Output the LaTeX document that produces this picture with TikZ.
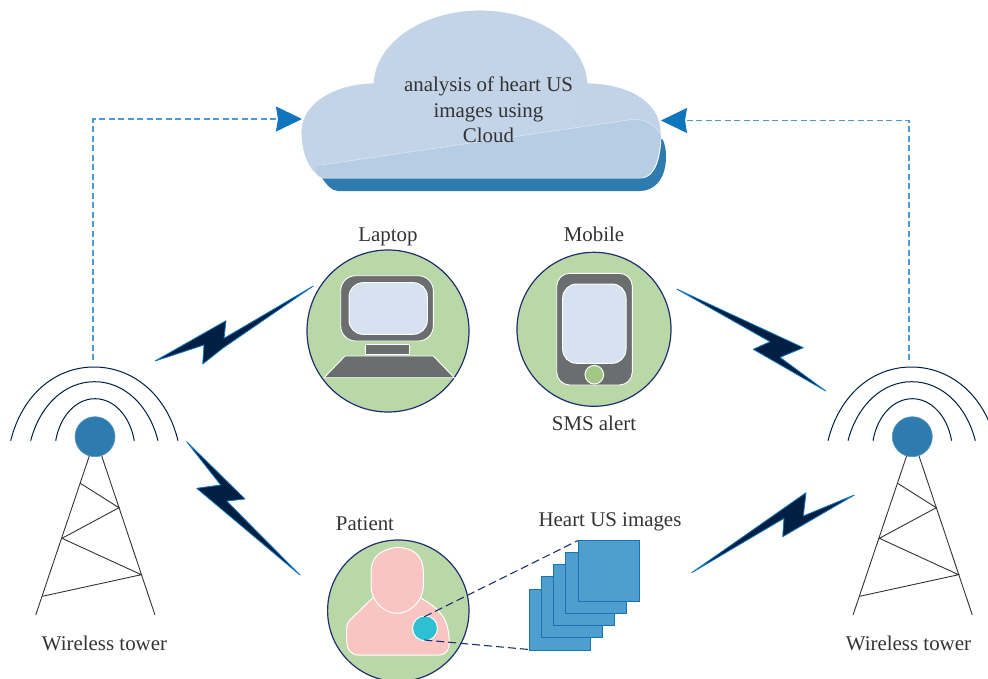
\documentclass[tikz,border=0pt]{standalone}
\usepackage{fontspec}
\setmainfont{Liberation Serif}
\usetikzlibrary{arrows.meta}
\definecolor{txt}{HTML}{333333}
\definecolor{navy}{HTML}{001F42}
\definecolor{boltedge}{HTML}{0F75BC}
\definecolor{ring}{HTML}{1F2F6F}
\definecolor{green1}{HTML}{B9D8A8}
\definecolor{green2}{HTML}{A0C884}
\definecolor{grey1}{HTML}{6B6D6F}
\definecolor{screen}{HTML}{D6E2EF}
\definecolor{towerblue}{HTML}{2E7BB0}
\definecolor{dashblue}{HTML}{4A9BD4}
\definecolor{headblue}{HTML}{0F75BC}
\definecolor{pinkbody}{HTML}{F8C5C2}
\definecolor{teal1}{HTML}{2DC0D0}
\definecolor{sq}{HTML}{4F9ED0}
\definecolor{sqedge}{HTML}{1A72B3}
\definecolor{cl1}{HTML}{C4D4E8}
\definecolor{cl2}{HTML}{BBCFE6}
\definecolor{cl3}{HTML}{C2D3E8}
\definecolor{fold}{HTML}{B6CDE3}
\tikzset{
  lbl/.style={text=txt,font=\fontsize{20.9}{25.5}\selectfont,inner sep=0pt,align=center},
  baselbl/.style={lbl,anchor=base},
  bolt/.style={fill=navy,draw=boltedge,line width=0.8pt,line join=round},
  disc/.style={circle,fill=green1,draw=ring,line width=1.2pt,inner sep=0pt},
  device/.style={fill=grey1,draw=white,line width=0.9pt},
  glass/.style={fill=screen,draw=white,line width=1pt},
  wave/.style={draw=navy,line width=1pt},
  mast/.style={draw=txt,line width=0.9pt},
  beacon/.style={circle,fill=towerblue,draw=towerblue!80!white,line width=0.6pt,minimum size=40pt,inner sep=0pt},
  dashlink/.style={draw=dashblue,line width=1.1pt,dash pattern=on 6pt off 3.5pt,-{Stealth[length=26pt,width=25pt,inset=2pt,color=headblue]}},
  zoomline/.style={draw=ring,line width=1.1pt,dash pattern=on 8pt off 4pt},
  sheet/.style={fill=sq,draw=sqedge,line width=1pt},
  person/.style={fill=pinkbody,draw=white,line width=1pt},
  towerpic/.pic={
    \draw[wave] (10.7,440.7) .. controls (22,395) and (55,367) .. (94,367) .. controls (133,367) and (167,395) .. (178,440.7);
    \draw[wave] (30.7,440.7) .. controls (40,405) and (65,381.7) .. (94.5,381.7) .. controls (124,381.7) and (149,405) .. (158,440.7);
    \draw[wave] (55.7,440.7) .. controls (60,416) and (76,398.7) .. (95,398.7) .. controls (114,398.7) and (130,416) .. (134.3,440.7);
    \draw[mast] (89.3,456) -- (35.7,615);
    \draw[mast] (101.7,456) -- (155,615);
    \draw[mast] (80.3,483.3) -- (119,507.7) -- (62,538.3) -- (141.3,574.7) -- (42.3,596.3);
  }
}
\begin{document}
\begin{tikzpicture}[x=1pt,y=-1pt]
\useasboundingbox (0,0) rectangle (988,678);

% cloud
\fill[towerblue] (660,138) -- (663,140) .. controls (666,148) and (666,152) .. (666,157) .. controls (666,178) and (655,191) .. (640,191) -- (338,191) .. controls (332,191) and (326,184) .. (322,178) -- cycle;
\shade[left color=cl1,middle color=cl2,right color=cl3] (322,178) .. controls (308,172) and (301,152) .. (301,132) .. controls (301,100) and (340,83) .. (373,83) .. controls (376,40) and (425,10) .. (480,10) .. controls (535,10) and (585,40) .. (588,83) .. controls (625,83) and (661,100) .. (661,132) .. controls (661,150) and (658,178) .. (640,178) -- cycle;
\draw[white,line width=0.9pt] (322,178) .. controls (308,172) and (301,152) .. (301,132) .. controls (301,100) and (340,83) .. (373,83) .. controls (376,40) and (425,10) .. (480,10) .. controls (535,10) and (585,40) .. (588,83) .. controls (625,83) and (661,100) .. (661,132) .. controls (661,150) and (658,178) .. (640,178) -- cycle;
\fill[fold] (321,165) -- (633,119.3) .. controls (645,118.5) and (655,125) .. (661,135) .. controls (660,150) and (655,178) .. (640,178) -- (322,178) .. controls (316,176) and (311,168) .. (321,165) -- cycle;
\draw[white!50!fold,line width=0.6pt] (321,165) -- (633,119.3) .. controls (645,118.5) and (655,125) .. (661,135);
\node[lbl] (cloudtext) at (488.5,110) {analysis of heart US\\images using\\Cloud};

% towers
\pic at (0,0) {towerpic};
\pic at (817.3,0) {towerpic};
\node[beacon] (beaconL) at (95,436.7) {};
\node[beacon] (beaconR) at (912.3,436.7) {};
\node[baselbl] (towerL) at (104.5,650) {Wireless tower};
\node[baselbl] (towerR) at (908.5,650) {Wireless tower};

% links to the cloud
\coordinate (linkL) at (93,360);
\coordinate (linkR) at (909,360);
\coordinate (cloudL) at (302,119);
\coordinate (cloudR) at (661,120.5);
\draw[dashlink] (linkL) |- (cloudL);
\draw[dashlink] (linkR) |- (cloudR);

% bolts
\draw[bolt] (155,361) -- (226,320.7) -- (224,338.3) -- (313.3,286) -- (223,348) -- (202.7,364) -- (204,345) -- cycle;
\draw[bolt] (186.7,441.7) -- (245,499) -- (226.7,501) -- (300,575) -- (196.7,488.3) -- (220.7,485) -- cycle;
\draw[bolt] (676.7,289) -- (803.3,347.7) -- (780,357.3) -- (825.7,391) -- (753.3,349.3) -- (770,341.7) -- cycle;
\draw[bolt] (691.7,572.7) -- (806,492.7) -- (803.3,516) -- (854.3,495) -- (782.7,536.7) -- (784,518.3) -- cycle;

% laptop
\node[disc,minimum size=162pt] (laptop) at (388,331) {};
\draw[device,rounded corners=15pt] (340.7,275.7) rectangle (433.3,341);
\draw[glass,rounded corners=14pt] (349,282.7) rectangle (427.3,334.3);
\draw[device] (365,344) rectangle (409,354.3);
\draw[device] (345,356) -- (433.3,356) -- (454.3,377.7) -- (324,377.7) -- cycle;
\node[baselbl] (laptoplbl) at (388,241) {Laptop};

% mobile
\node[disc,minimum size=154pt] (mobile) at (594,329.3) {};
\draw[device,rounded corners=13pt] (556.7,273.3) rectangle (632.3,385);
\draw[glass,rounded corners=14pt] (562.7,284) rectangle (626,363.3);
\node[circle,fill=green2,draw=white,line width=1pt,minimum size=18.6pt,inner sep=0pt] (homekey) at (594.3,374.7) {};
\node[baselbl] (mobilelbl) at (594,241) {Mobile};
\node[baselbl] (smslbl) at (594,430.7) {SMS alert};

% patient
\node[disc,minimum size=141.4pt] (patient) at (398.3,610.7) {};
\draw[person] (373.3,597.3) -- (350,620) .. controls (347.5,622.5) and (346.7,625) .. (346.7,628) -- (346.7,640) .. controls (346.7,650) and (351,655) .. (358.3,655) -- (438.3,655) .. controls (446,655) and (449.3,650) .. (449.3,643.3) .. controls (449.3,632) and (447,625) .. (445,620) .. controls (440,610) and (430,603) .. (420,597.7) -- cycle;
\draw[person] (397.5,547.3) .. controls (413,548) and (423.3,555) .. (423.3,572) -- (423.3,586) .. controls (423.3,600) and (411,613.3) .. (397,613.3) .. controls (383,613.3) and (371,600) .. (371,586) -- (371,572) .. controls (371,556) and (382,549) .. (397.5,547.3) -- cycle;
\node[circle,fill=teal1,draw=white,line width=1pt,minimum size=25pt,inner sep=0pt] (spot) at (425,628.3) {};
\node[baselbl] (patientlbl) at (365,530.7) {Patient};

% image stack
\draw[sheet] (529,589) rectangle (590,650);
\draw[sheet] (541.2,576.8) rectangle (602.2,637.8);
\draw[sheet] (553.4,564.6) rectangle (614.4,625.6);
\draw[sheet] (565.6,552.4) rectangle (626.6,613.4);
\draw[sheet] (578,540.5) rectangle (639,601.5);
\coordinate (sheetTop) at (578,540.5);
\coordinate (sheetBot) at (529,649.5);
\coordinate (spotTop) at (424.3,616.7);
\coordinate (spotBot) at (424.3,640);
\draw[zoomline] (spotTop) -- (sheetTop);
\draw[zoomline] (spotBot) -- (sheetBot);
\node[baselbl] (heartlbl) at (610,526.7) {Heart US images};
\end{tikzpicture}
\end{document}
